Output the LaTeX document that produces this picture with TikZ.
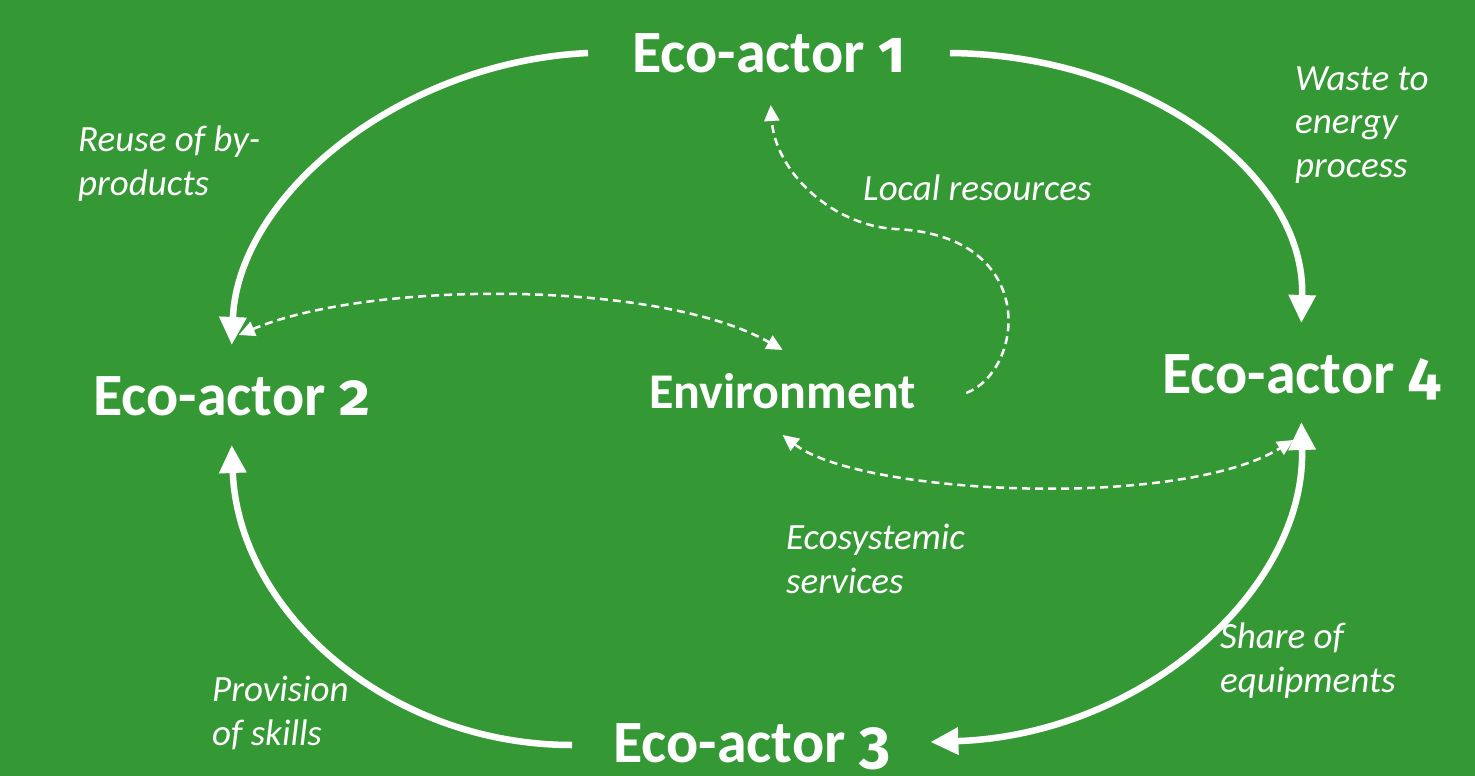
\documentclass[tikz,border=0pt]{standalone}
\usepackage{fontspec}
\setmainfont{Carlito}
\newfontfamily\olddigits[Numbers=OldStyle]{Fira Sans}
\usepackage{tikz}
\usetikzlibrary{positioning, arrows.meta, calc}
\definecolor{ecogreen}{RGB}{52,153,52}
\newcommand{\od}[1]{{\olddigits\fontseries{sb}\selectfont #1}}
\tikzstyle{actor} = [font=\bfseries\fontsize{60}{70}\selectfont, text=white, inner sep=0pt, anchor=base west]
\tikzstyle{hub} = [font=\bfseries\fontsize{50}{60}\selectfont, text=white, inner sep=0pt, anchor=base west]
\tikzstyle{flowlabel} = [font=\itshape\fontsize{37}{43.5}\selectfont, text=white, align=left, inner sep=0pt, anchor=base west]
\tikzstyle{flow} = [draw=white, line width=6.5pt, -{Triangle[length=28pt, width=26pt]}]
\tikzstyle{flowboth} = [flow, {Triangle[length=28pt, width=26pt]}-{Triangle[length=28pt, width=26pt]}]
\tikzstyle{exchange} = [draw=white, line width=2.5pt, dash pattern=on 8pt off 5pt, {Triangle[length=16pt, width=15pt]}-{Triangle[length=16pt, width=15pt]}]
\tikzstyle{supply} = [exchange, -{Triangle[length=16pt, width=15pt]}]

\begin{document}
\begin{tikzpicture}[x=1pt, y=-1pt]
        \fill[ecogreen] (0,0) rectangle (1475,776);
        \useasboundingbox (0,0) rectangle (1475,776);
        % Nodes
        \node (actor1) [actor] at (632,73) {Eco-actor \od{1}};
        \node (actor2) [actor] at (93,415) {Eco-actor \od{2}};
        \node (actor3) [actor] at (613,762) {Eco-actor \od{3}};
        \node (actor4) [actor] at (1162,393) {Eco-actor \od{4}};
        \node (env) [hub] at (649,408) {Environment};
        % Labels (base = last line)
        \node (reuse) [flowlabel] at (78,195) {Reuse of by-\\products};
        \node (waste) [flowlabel] at (1295,177) {Waste to\\energy\\process};
        \node (local) [flowlabel] at (863,200) {Local resources};
        \node (ecoserv) [flowlabel] at (786,593) {Ecosystemic\\services};
        \node (share) [flowlabel] at (1220,692) {Share of\\equipments};
        \node (skills) [flowlabel] at (212,745) {Provision\\of skills};
        % Solid flows
        \path [flow] ([xshift=-44pt, yshift=20pt]actor1.base west) .. controls (400,62) and (238,195) .. ([yshift=70pt]actor2.base);
        \path [flow] ([xshift=318pt, yshift=20pt]actor1.base west) .. controls (1146,55) and (1306,174) .. ([yshift=70pt]actor4.base);
        \path [flowboth] ([xshift=40pt, yshift=20pt]actor3.base east) .. controls (1142,735) and (1306,590) .. ([yshift=-29pt]actor4.base);
        \path [flow] ([xshift=-41pt, yshift=17pt]actor3.base west) .. controls (388,745) and (238,611) .. ([yshift=-30pt]actor2.base);
        % Dashed exchanges
        \path [exchange] ([xshift=7pt, yshift=80pt]actor2.base) .. controls (370,280) and (660,280) .. ([yshift=58pt]env.base);
        \path [exchange] ([yshift=-27pt]env.base) .. controls (860,495) and (1180,510) .. ([xshift=-8pt, yshift=-47pt]actor4.base);
        \path [supply] ([xshift=50pt, yshift=15pt]env.base east) .. controls (1025,370) and (1040,235) .. (895,229)
              .. controls (830,225) and (775,170) .. ([xshift=2pt, yshift=-32pt]actor1.base);
\end{tikzpicture}
\end{document}
